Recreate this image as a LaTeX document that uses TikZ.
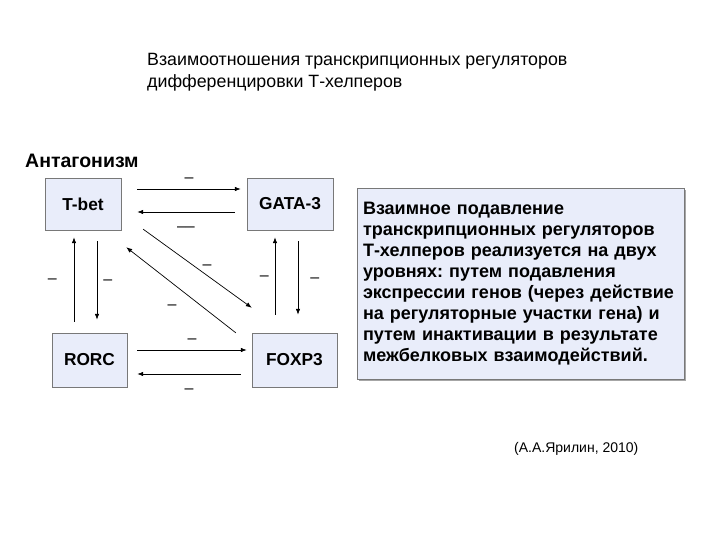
\documentclass[tikz,border=0pt]{standalone}
\usepackage{fontspec}
\setmainfont{Liberation Sans}
\usetikzlibrary{arrows.meta,positioning,calc,shadows}
\definecolor{boxfill}{RGB}{233,237,250}
\definecolor{boxline}{RGB}{120,120,120}
\frenchspacing

\begin{document}
\begin{tikzpicture}[x=1pt,y=-1pt,
gene/.style={draw=boxline,fill=boxfill,inner sep=0pt,font=\fontsize{17.3}{20}\selectfont\bfseries},
arr/.style={-{Latex[length=6pt,width=4.5pt]},line width=0.7pt},
lab/.style={font=\fontsize{16}{18}\selectfont,inner sep=1pt,text height=11pt,text depth=3pt}]
\useasboundingbox (0,0) rectangle (720,540);
\node[anchor=base west,inner sep=0pt,font=\fontsize{17.8}{21}\selectfont] (title1) at (147,65.5) {Взаимоотношения транскрипционных регуляторов};
\node[anchor=base west,inner sep=0pt,font=\fontsize{17.8}{21}\selectfont] (title2) at (147,87.5) {дифференцировки Т-хелперов};
\node[anchor=base west,inner sep=0pt,font=\fontsize{19.5}{22}\selectfont\bfseries] (antag) at (25,167.5) {Антагонизм};
\foreach \n/\t/\x/\y/\w/\h in {tbet/T-bet/83/204/76/52,gata/GATA-3/290/204/86/52,rorc/RORC/89.5/360/75/54,foxp3/FOXP3/294.5/360/85/54}
  \node[gene,minimum width=\w pt,minimum height=\h pt] (\n) at (\x,\y) {\t};
\draw[arr] ($(tbet.east)+(16,-15)$) -- node[lab,above=2pt] (l1) {–} ($(gata.west)+(-6,-15)$);
\draw[arr] ($(gata.west)+(-12,8)$) -- node[lab,below=7pt] (l2) {––} ($(tbet.east)+(16,8)$);
\draw[arr] ($(rorc.north)+(-15.5,-11)$) -- node[lab,left=16pt] (l3) {–} ($(tbet.south)+(-9,7)$);
\draw[arr] ($(tbet.south)+(14,11)$) -- node[lab,right=5pt] (l4) {–} ($(rorc.north)+(7.5,-13)$);
\draw[arr] ($(foxp3.north)+(-19.5,-18)$) -- node[lab,left=5pt] (l5) {–} ($(gata.south)+(-15,7)$);
\draw[arr] ($(gata.south)+(8,11)$) -- node[lab,right=11pt] (l6) {–} ($(foxp3.north)+(3.5,-18)$);
\draw[arr] ($(rorc.east)+(10,-10)$) -- node[lab,above=2pt] (l7) {–} ($(foxp3.west)+(-5,-10)$);
\draw[arr] ($(foxp3.west)+(-11,14)$) -- node[lab,below=7pt] (l8) {–} ($(rorc.east)+(10,14)$);
\draw[arr] ($(tbet.south east)+(22,-1)$) -- node[lab,xshift=9.5pt,yshift=3.5pt] (l9) {–} ($(foxp3.north west)+(0,-25)$);
\draw[arr] ($(foxp3.north west)+(-16,0)$) -- node[lab,xshift=-9pt,yshift=-15pt] (l10) {–} ($(tbet.south east)+(5,17)$);
\node[draw=boxline,fill=boxfill,drop shadow={shadow xshift=2pt,shadow yshift=-2pt,fill=black!35,opacity=1},
  minimum width=327pt,minimum height=191pt,text width=315pt,inner xsep=6pt,align=left,
  font=\fontsize{18}{21}\selectfont\bfseries] (note) at (520.5,283.5)
  {Взаимное подавление\\транскрипционных регуляторов\\Т-хелперов реализуется на двух\\уровнях: путем подавления\\экспрессии генов (через действие\\на регуляторные участки гена) и\\путем инактивации в результате\\межбелковых взаимодействий.};
\node[anchor=base west,inner sep=0pt,font=\fontsize{14}{16}\selectfont] (cite) at (514,452) {(А.А.Ярилин, 2010)};
\end{tikzpicture}
\end{document}
